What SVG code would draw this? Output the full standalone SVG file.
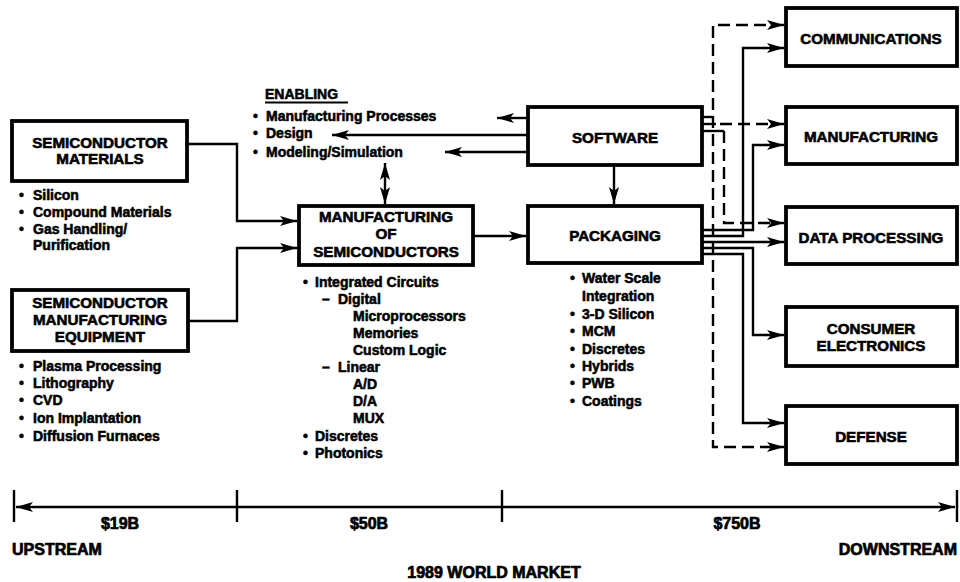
<svg xmlns="http://www.w3.org/2000/svg" width="960" height="582" viewBox="0 0 960 582">
<style>
.box{fill:#fff;stroke:#000;stroke-width:3.8}
.ln{fill:none;stroke:#000;stroke-width:2.4}
.dash{fill:none;stroke:#000;stroke-width:2.4;stroke-dasharray:12 6}
.bt{font-family:"Liberation Sans",Arial,sans-serif;font-weight:bold;font-size:15.2px;text-anchor:middle;stroke:#000;stroke-width:0.6}
.t{font-family:"Liberation Sans",Arial,sans-serif;font-weight:bold;font-size:14px;stroke:#000;stroke-width:0.55}
.k{font-size:16px;stroke-width:0.7}
.m{text-anchor:middle}
.e{text-anchor:end}
</style>
<defs>
<marker id="ah" markerUnits="userSpaceOnUse" markerWidth="18" markerHeight="11" refX="17" refY="5.5" orient="auto-start-reverse">
<path d="M0,0.5 L17,5.5 L0,10.5 L4,5.5 z" fill="#000"/>
</marker>
</defs>

<g id="connectors">
<path class="ln" d="M187,144 H237 V221 H297" marker-end="url(#ah)"/>
<path class="ln" d="M188,321 H237 V248 H297" marker-end="url(#ah)"/>
<path class="ln" d="M385,163 V204" marker-start="url(#ah)" marker-end="url(#ah)"/>
<path class="ln" d="M473,236 H526" marker-end="url(#ah)"/>
<path class="ln" d="M614,165 V204" marker-end="url(#ah)"/>
<path class="ln" d="M528,118 H497" marker-end="url(#ah)"/>
<path class="ln" d="M528,135 H332" marker-end="url(#ah)"/>
<path class="ln" d="M528,152 H445" marker-end="url(#ah)"/>
<path class="ln" d="M702,117 H713"/>
<path class="ln" d="M702,131 H724"/>
<path class="ln" d="M702,124 H716"/>
<path class="dash" d="M720,124 H784" marker-end="url(#ah)"/>
<path class="dash" d="M784,25 H713 V447 H784" marker-start="url(#ah)" marker-end="url(#ah)"/>
<path class="dash" d="M724,131 V223 H784" marker-end="url(#ah)"/>
<path class="ln" d="M702,230 H753 V145 H784" marker-end="url(#ah)"/>
<path class="ln" d="M702,236 H743 V48 H784" marker-end="url(#ah)"/>
<path class="ln" d="M702,242 H784" marker-end="url(#ah)"/>
<path class="ln" d="M702,248 H753 V335 H784" marker-end="url(#ah)"/>
<path class="ln" d="M702,254 H743 V423 H784" marker-end="url(#ah)"/>
<path class="ln" d="M16,507 H955" marker-start="url(#ah)" marker-end="url(#ah)"/>
<path class="ln" d="M14,490 V522 M237,490 V522 M502,490 V522 M957,490 V522"/>
</g>

<g id="semiconductor-materials">
<rect class="box" x="12" y="121" width="175" height="60"/>
<text class="bt" x="100" y="148">SEMICONDUCTOR</text>
<text class="bt" x="100" y="164">MATERIALS</text>
<text class="t" x="19" y="200">•</text><text class="t" x="33" y="200">Silicon</text>
<text class="t" x="19" y="217">•</text><text class="t" x="33" y="217">Compound Materials</text>
<text class="t" x="19" y="234">•</text><text class="t" x="33" y="234">Gas Handling/</text>
<text class="t" x="33" y="250">Purification</text>
</g>

<g id="semiconductor-equipment">
<rect class="box" x="12" y="290" width="176" height="61"/>
<text class="bt" x="100" y="308">SEMICONDUCTOR</text>
<text class="bt" x="100" y="325">MANUFACTURING</text>
<text class="bt" x="100" y="342">EQUIPMENT</text>
<text class="t" x="19" y="371">•</text><text class="t" x="33" y="371">Plasma Processing</text>
<text class="t" x="19" y="388">•</text><text class="t" x="33" y="388">Lithography</text>
<text class="t" x="19" y="405">•</text><text class="t" x="33" y="405">CVD</text>
<text class="t" x="19" y="423">•</text><text class="t" x="33" y="423">Ion Implantation</text>
<text class="t" x="19" y="441">•</text><text class="t" x="33" y="441">Diffusion Furnaces</text>
</g>

<g id="enabling">
<text class="t" x="265" y="99">ENABLING</text>
<line x1="265" y1="102.5" x2="348" y2="102.5" stroke="#000" stroke-width="2"/>
<text class="t" x="253" y="121">•</text><text class="t" x="266" y="121">Manufacturing Processes</text>
<text class="t" x="253" y="138">•</text><text class="t" x="266" y="138">Design</text>
<text class="t" x="253" y="157">•</text><text class="t" x="266" y="157">Modeling/Simulation</text>
</g>

<g id="manufacturing-of-semiconductors">
<rect class="box" x="299" y="206" width="174" height="59"/>
<text class="bt" x="386" y="222">MANUFACTURING</text>
<text class="bt" x="386" y="239">OF</text>
<text class="bt" x="386" y="257">SEMICONDUCTORS</text>
<text class="t" x="303" y="287">•</text><text class="t" x="315" y="287">Integrated Circuits</text>
<text class="t" x="322" y="304">–</text><text class="t" x="338" y="304">Digital</text>
<text class="t" x="353" y="321">Microprocessors</text>
<text class="t" x="353" y="338">Memories</text>
<text class="t" x="353" y="355">Custom Logic</text>
<text class="t" x="322" y="372">–</text><text class="t" x="338" y="372">Linear</text>
<text class="t" x="353" y="389">A/D</text>
<text class="t" x="353" y="406">D/A</text>
<text class="t" x="353" y="423">MUX</text>
<text class="t" x="303" y="441">•</text><text class="t" x="315" y="441">Discretes</text>
<text class="t" x="303" y="458">•</text><text class="t" x="315" y="458">Photonics</text>
</g>

<g id="software">
<rect class="box" x="528" y="107" width="174" height="58"/>
<text class="bt" x="615" y="143">SOFTWARE</text>
</g>

<g id="packaging">
<rect class="box" x="528" y="206" width="174" height="57"/>
<text class="bt" x="615" y="241">PACKAGING</text>
<text class="t" x="570" y="283">•</text><text class="t" x="582" y="283">Water Scale</text>
<text class="t" x="582" y="301">Integration</text>
<text class="t" x="570" y="319">•</text><text class="t" x="582" y="319">3-D Silicon</text>
<text class="t" x="570" y="336">•</text><text class="t" x="582" y="336">MCM</text>
<text class="t" x="570" y="354">•</text><text class="t" x="582" y="354">Discretes</text>
<text class="t" x="570" y="371">•</text><text class="t" x="582" y="371">Hybrids</text>
<text class="t" x="570" y="388">•</text><text class="t" x="582" y="388">PWB</text>
<text class="t" x="570" y="406">•</text><text class="t" x="582" y="406">Coatings</text>
</g>

<g id="communications">
<rect class="box" x="786" y="8" width="171" height="58"/>
<text class="bt" x="871" y="44">COMMUNICATIONS</text>
</g>
<g id="manufacturing">
<rect class="box" x="786" y="107" width="171" height="57"/>
<text class="bt" x="871" y="142">MANUFACTURING</text>
</g>
<g id="data-processing">
<rect class="box" x="786" y="207" width="171" height="57"/>
<text class="bt" x="871" y="243">DATA PROCESSING</text>
</g>
<g id="consumer-electronics">
<rect class="box" x="786" y="307" width="171" height="59"/>
<text class="bt" x="871" y="334">CONSUMER</text>
<text class="bt" x="871" y="351">ELECTRONICS</text>
</g>
<g id="defense">
<rect class="box" x="786" y="406" width="171" height="58"/>
<text class="bt" x="871" y="442">DEFENSE</text>
</g>

<g id="market">
<text class="t k m" x="120" y="529">$19B</text>
<text class="t k m" x="369" y="529">$50B</text>
<text class="t k m" x="737" y="529">$750B</text>
<text class="t k" x="12" y="555">UPSTREAM</text>
<text class="t k e" x="957" y="555">DOWNSTREAM</text>
<text class="t k m" x="494" y="578">1989 WORLD MARKET</text>
</g>
</svg>
